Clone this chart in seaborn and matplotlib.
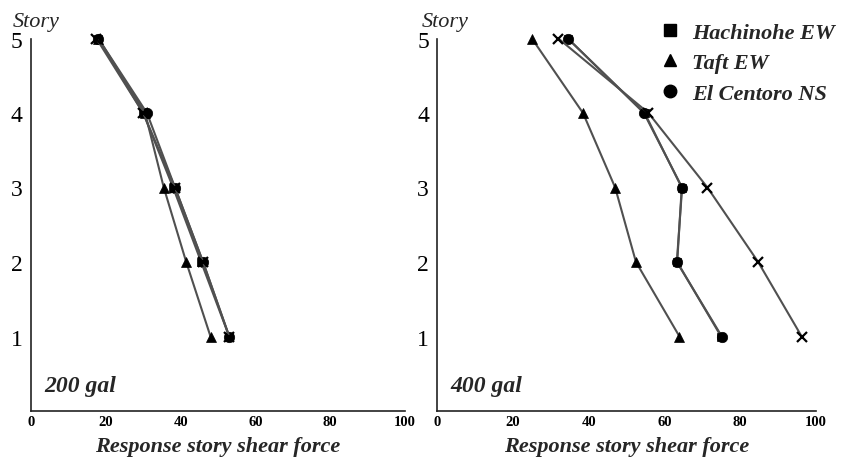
import matplotlib
matplotlib.use("Agg")
import matplotlib.pyplot as plt
import seaborn as sns
import pandas as pd
from matplotlib.lines import Line2D

stories = [1, 2, 3, 4, 5]
x_ticks = [0, 20, 40, 60, 80, 100]
y_ticks = [1, 2, 3, 4, 5]
series_names = ["Hachinohe EW", "Taft EW", "El Centoro NS"]

# 200 gal
hachinohe_200 = [53, 45.5, 38, 30, 18]
taft_200 = [48, 41.5, 35.5, 30.5, 18]
elcentro_200 = [53, 46, 38.5, 31, 18]
xseries_200 = [53, 46, 38.5, 30, 17.5]

# 400 gal
hachinohe_400 = [75, 63.4, 64.6, 54.8, 34.5]
taft_400 = [64, 52.5, 47, 38.5, 25]
elcentro_400 = [75.2, 63.3, 64.7, 54.6, 34.5]
xseries_400 = [96.3, 84.8, 71.4, 55.8, 32]

sns.set_style("white")
plt.rcParams["font.family"] = ["Liberation Serif", "DejaVu Serif"]

fig = plt.figure(figsize=(8.49, 4.6), dpi=100)
ax1 = fig.add_axes([31/849, 48/460, 374/849, 372.5/460])
ax2 = fig.add_axes([437.3/849, 48/460, 378.4/849, 372.5/460])

line_col = "#505050"

def draw(ax, xs, hs, ts, es, label, story_x, order):
    specs = {"x": (xs, "x", 7, 1.6), "s": (hs, "s", 6, 0),
             "^": (ts, "^", 7, 0), "o": (es, "o", 7.5, 0)}
    for key in order:
        vals, mk, ms, mew = specs[key]
        df = pd.DataFrame({"force": vals, "story": stories})
        sns.lineplot(data=df, x="force", y="story", sort=False, estimator=None,
                     ax=ax, color=line_col, linewidth=1.5, marker=mk,
                     markersize=ms, markerfacecolor="black",
                     markeredgecolor="black", markeredgewidth=mew if mew else 0.5,
                     clip_on=False)
    ax.set_xlim(0, 100)
    ax.set_ylim(0, 5)
    ax.set_xticks(x_ticks)
    ax.set_yticks(y_ticks)
    ax.set_xticklabels([str(v) for v in x_ticks], fontsize=10.5, fontweight="bold")
    ax.set_yticklabels([str(v) for v in y_ticks], fontsize=17)
    ax.tick_params(axis="x", direction="in", length=4, width=1, pad=3, colors="black")
    ax.tick_params(axis="y", direction="out", length=4, width=1, pad=2, colors="black")
    for s in ["top", "right"]:
        ax.spines[s].set_visible(False)
    for s in ["left", "bottom"]:
        ax.spines[s].set_color("#222222")
        ax.spines[s].set_linewidth(1.2)
    ax.set_xlabel("Response story shear force", fontsize=16, fontweight="bold",
                  fontstyle="italic", labelpad=6)
    ax.set_ylabel("")
    ax.text(story_x, 1.02, "Story", transform=ax.transAxes, fontsize=16,
            fontstyle="italic", ha="left", va="bottom")
    ax.text(0.035, 0.04, label, transform=ax.transAxes, fontsize=17,
            fontweight="bold", fontstyle="italic", ha="left", va="bottom")

draw(ax1, xseries_200, hachinohe_200, taft_200, elcentro_200, "200 gal", -0.048,
     ["o", "s", "^", "x"])
draw(ax2, xseries_400, hachinohe_400, taft_400, elcentro_400, "400 gal", -0.04,
     ["s", "^", "o", "x"])

handles = [Line2D([], [], linestyle="none", marker=m, color="black", markersize=ms)
           for m, ms in [("s", 9), ("^", 9), ("o", 9)]]
ax2.legend(handles, series_names, loc="upper right", bbox_to_anchor=(1.085, 1.08),
           frameon=False, prop={"size": 16, "weight": "bold", "style": "italic"},
           handletextpad=0.5, labelspacing=0.45, handlelength=1.0, borderaxespad=0.2)

fig.savefig("out.png", dpi=100)
